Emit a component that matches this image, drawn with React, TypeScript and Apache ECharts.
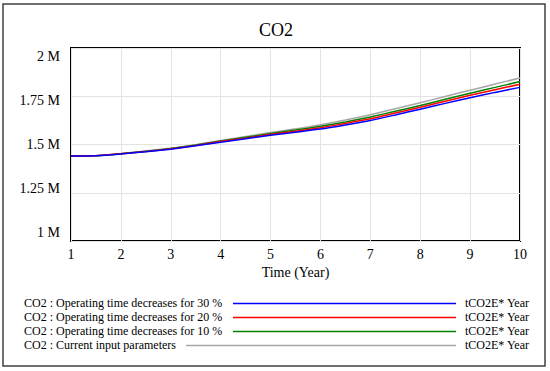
import React, { useEffect, useRef } from "react";
import * as echarts from "echarts";

const years = [1, 1.5, 2, 2.5, 3, 3.5, 4, 4.5, 5, 5.5, 6, 6.5, 7, 7.5, 8, 8.5, 9, 9.5, 10];
const dec30 = [1.440, 1.442, 1.451, 1.463, 1.476, 1.493, 1.512, 1.530, 1.548, 1.564, 1.580, 1.601, 1.624, 1.653, 1.683, 1.713, 1.742, 1.770, 1.796];
const dec20 = [1.440, 1.442, 1.452, 1.464, 1.478, 1.495, 1.515, 1.533, 1.552, 1.569, 1.587, 1.609, 1.633, 1.663, 1.693, 1.724, 1.755, 1.784, 1.812];
const dec10 = [1.440, 1.442, 1.452, 1.465, 1.479, 1.497, 1.518, 1.537, 1.557, 1.575, 1.594, 1.617, 1.643, 1.672, 1.702, 1.734, 1.766, 1.796, 1.826];
const current = [1.440, 1.442, 1.453, 1.466, 1.480, 1.499, 1.521, 1.541, 1.562, 1.581, 1.602, 1.627, 1.654, 1.685, 1.716, 1.749, 1.781, 1.813, 1.845];

const seriesNames = [
  "CO2 : Operating time decreases for 30 %",
  "CO2 : Operating time decreases for 20 %",
  "CO2 : Operating time decreases for 10 %",
  "CO2 : Current input parameters",
];
const seriesValues = [dec30, dec20, dec10, current];
const seriesColors = ["#0000ff", "#ff0000", "#008000", "#a6a6a6"];
const unitLabel = "tCO2E* Year";
const yTicks = [1000000, 1250000, 1500000, 1750000, 2000000];
const titleText = "CO2";
const xName = "Time (Year)";

const FONT = "Liberation Serif";

export default function App() {
  const ref = useRef<HTMLDivElement>(null);
  useEffect(() => {
    document.body.style.margin = "0";
    if (!ref.current) return;
    const chart = echarts.init(ref.current, null, { renderer: "svg" });
    const legendRowsY = [302.5, 316.5, 330.5, 344.5];
    const lineStarts = [233, 233, 233, 186];
    const graphic: any[] = [
      {
        type: "rect",
        shape: { x: 3, y: 4, width: 542, height: 362 },
        style: { fill: "none", stroke: "#404040", lineWidth: 1.5 },
        silent: true,
      },
    ];
    seriesNames.forEach((name, i) => {
      graphic.push({
        type: "text",
        x: 24,
        y: legendRowsY[i],
        style: { text: name, fontFamily: FONT, fontSize: 12, fill: "#000", verticalAlign: "middle" },
      });
      graphic.push({
        type: "line",
        shape: { x1: lineStarts[i], y1: legendRowsY[i] + 1, x2: 456, y2: legendRowsY[i] + 1 },
        style: { stroke: seriesColors[i], lineWidth: 1.5 },
      });
      graphic.push({
        type: "text",
        x: 465,
        y: legendRowsY[i],
        style: { text: unitLabel, fontFamily: FONT, fontSize: 12, fill: "#000", verticalAlign: "middle" },
      });
    });

    const order = [3, 2, 1, 0];
    const option: any = {
      animation: false,
      backgroundColor: "#fff",
      textStyle: { fontFamily: FONT },
      title: {
        text: titleText,
        left: 271,
        top: 16,
        textAlign: "center",
        textStyle: { fontFamily: FONT, fontSize: 18, fontWeight: "normal", color: "#000" },
      },
      grid: {
        left: 71,
        right: 30,
        top: 48,
        bottom: 130,
        show: true,
        borderColor: "#000",
        borderWidth: 2,
        backgroundColor: "transparent",
      },
      xAxis: {
        type: "value",
        min: 1,
        max: 10,
        interval: 1,
        name: xName,
        nameLocation: "middle",
        nameGap: 21,
        nameTextStyle: { fontFamily: FONT, fontSize: 14, color: "#000" },
        axisLine: { show: false },
        axisTick: { show: false },
        axisLabel: { fontFamily: FONT, fontSize: 14, color: "#000", margin: 6 },
        splitLine: { show: true, lineStyle: { color: "#e3e3e3", width: 1 } },
      },
      yAxis: [
        {
          type: "value",
          position: "left",
          min: 1000000,
          max: 2000000,
          interval: 250000,
          axisLine: { show: false },
          axisTick: { show: false },
          axisLabel: { show: false },
          splitLine: { show: true, lineStyle: { color: "#e3e3e3", width: 1 } },
        },
        {
          type: "value",
          position: "left",
          min: 950000,
          max: 2050000,
          axisLine: { show: false },
          axisTick: { show: false },
          splitLine: { show: false },
          axisLabel: {
            customValues: yTicks,
            fontFamily: FONT,
            fontSize: 14,
            color: "#000",
            margin: 11,
            formatter: (v: number) => `${v / 1000000} M`,
          },
        },
      ],
      series: order.map((i) => ({
        type: "line",
        name: seriesNames[i],
        yAxisIndex: 0,
        showSymbol: false,
        symbol: "none",
        smooth: 0.2,
        data: years.map((x, k) => [x, seriesValues[i][k] * 1000000]),
        lineStyle: { color: seriesColors[i], width: 1.5 },
        itemStyle: { color: seriesColors[i] },
      })),
      graphic,
    };
    chart.setOption(option);
    return () => chart.dispose();
  }, []);
  return <div ref={ref} style={{ width: 550, height: 371 }} />;
}
